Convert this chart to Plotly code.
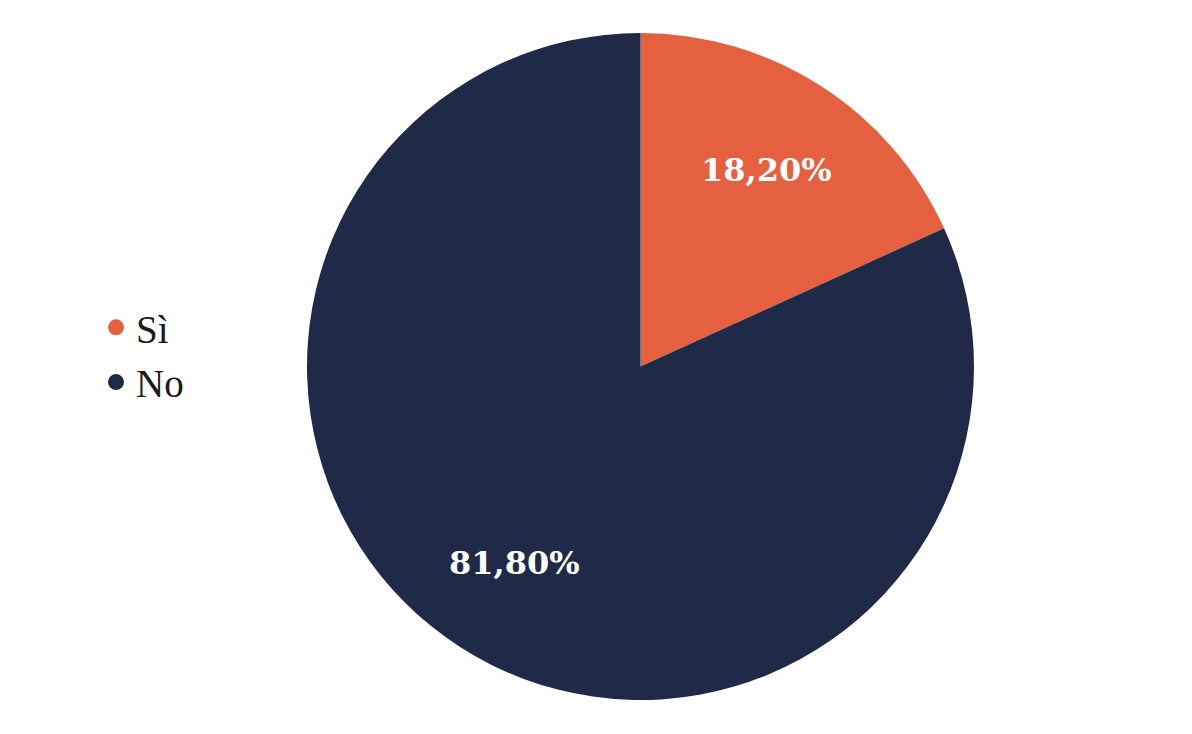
import math
import plotly.graph_objects as go

labels = ["Sì", "No"]
values = [18.2, 81.8]
text_labels = ["18,20%", "81,80%"]
colors = ["#E4603F", "#1F2A48"]

W, H = 1192, 734
# pie box in pixels (page has an 8px body margin, so shifted back by 8)
px_left, px_right, px_top, px_bottom = 299, 966, 25, 692
dom_x = [px_left / W, px_right / W]
dom_y = [1 - px_bottom / H, 1 - px_top / H]

fig = go.Figure()

fig.add_trace(go.Pie(
    labels=labels,
    values=values,
    textinfo="none",
    direction="clockwise",
    sort=False,
    rotation=0,
    marker=dict(colors=colors, line=dict(width=0)),
    showlegend=False,
    hoverinfo="label+percent",
    domain=dict(x=dom_x, y=dom_y),
))

# slice labels at 70% of the radius, on the middle angle of each slice
# (annotations on hidden axes laid over the pie, so they sit above it)
total = sum(values)
cum = 0
for v, t in zip(values, text_labels):
    mid = (cum + v / 2) / total * 2 * math.pi
    fig.add_annotation(
        x=0.7 * math.sin(mid), y=0.7 * math.cos(mid), xref="x", yref="y",
        text=t, showarrow=False,
        font=dict(family="DejaVu Serif", size=32, color="white", weight="bold"),
    )
    cum += v

# legend with round markers
for lab, col in zip(labels, colors):
    fig.add_trace(go.Scatter(
        x=[None], y=[None], mode="markers", name=lab,
        legendgroup=lab,
        marker=dict(color=col, size=22, symbol="circle"),
    ))

fig.update_layout(
    width=W, height=H,
    margin=dict(l=0, r=0, t=0, b=0),
    paper_bgcolor="white", plot_bgcolor="rgba(0,0,0,0)",
    xaxis=dict(visible=False, range=[-1, 1], domain=dom_x, fixedrange=True),
    yaxis=dict(visible=False, range=[-1, 1], domain=dom_y, fixedrange=True),
    legend=dict(
        x=88 / W, y=1 - 347 / H, xanchor="left", yanchor="middle",
        font=dict(family="Liberation Serif", size=39, color="#1a1a1a"),
        itemsizing="trace", tracegroupgap=1,
    ),
)

fig.write_html("out.html")
